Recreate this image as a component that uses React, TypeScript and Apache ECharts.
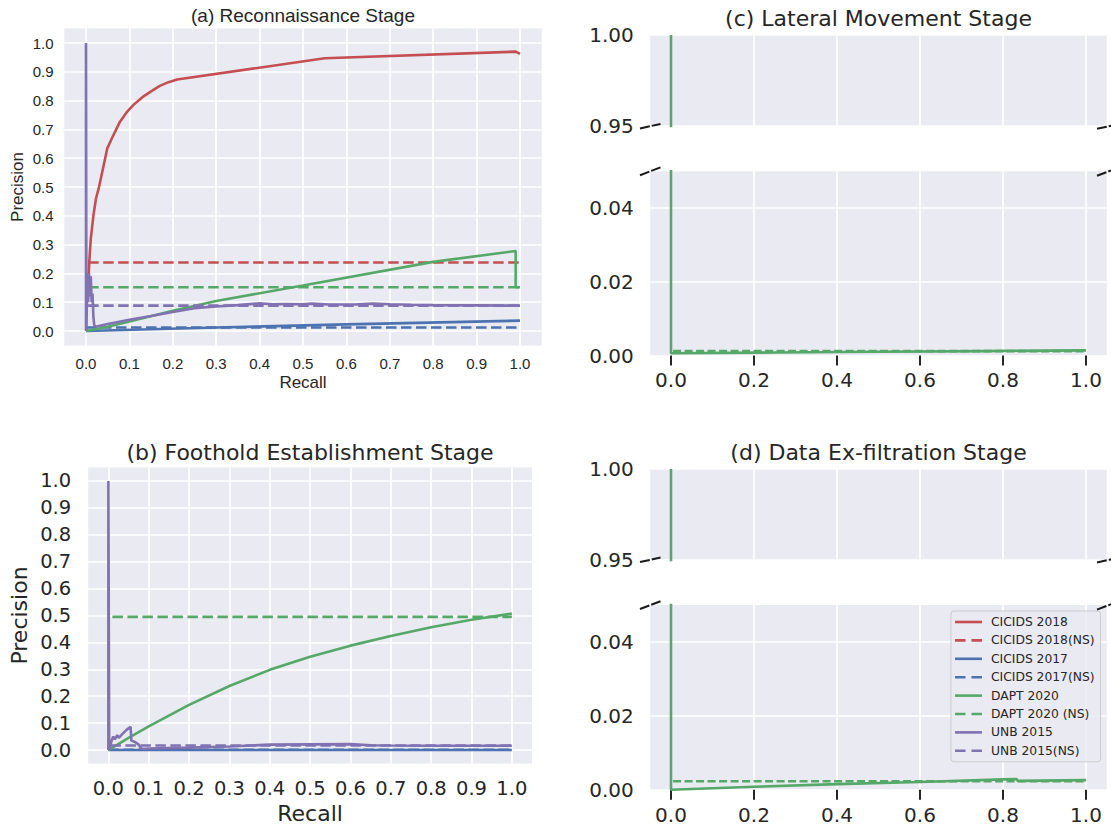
import React, { useEffect, useRef } from 'react';
import * as echarts from 'echarts';

// ---------- data ----------
const SERIES_NAMES = [
  'CICIDS 2018', 'CICIDS 2018(NS)', 'CICIDS 2017', 'CICIDS 2017(NS)',
  'DAPT 2020', 'DAPT 2020 (NS)', 'UNB 2015', 'UNB 2015(NS)',
];
const RED = '#c44e52';
const BLUE = '#4c72b0';
const GREEN = '#55a868';
const PURPLE = '#8172b2';

const TICKS_01 = [0.0, 0.1, 0.2, 0.3, 0.4, 0.5, 0.6, 0.7, 0.8, 0.9, 1.0];
const TICKS_02 = [0.0, 0.2, 0.4, 0.6, 0.8, 1.0];
const TICKS_UPPER = [0.95, 1.0];
const TICKS_LOWER = [0.0, 0.02, 0.04];

// (a) Reconnaissance
const A_CICIDS18 = [[0.006, 0.19], [0.008, 0.25], [0.011, 0.32], [0.017, 0.4], [0.023, 0.46], [0.03, 0.5], [0.04, 0.57], [0.049, 0.634], [0.06, 0.67], [0.078, 0.726], [0.095, 0.762], [0.11, 0.786], [0.13, 0.812], [0.15, 0.832], [0.17, 0.851], [0.19, 0.864], [0.21, 0.873], [0.55, 0.947], [0.99, 0.97], [1.0, 0.962]];
const A_CICIDS18_NS = [[0.005, 0.238], [1.0, 0.238]];
const A_CICIDS17 = [[0.0, 0.0], [0.3, 0.012], [0.6, 0.023], [1.0, 0.036]];
const A_CICIDS17_NS = [[0.0, 0.012], [1.0, 0.012]];
const A_DAPT = [[0.0, 0.0], [0.05, 0.015], [0.1, 0.033], [0.2, 0.07], [0.3, 0.104], [0.5, 0.158], [0.8, 0.24], [0.99, 0.278], [0.99, 0.152], [1.0, 0.152]];
const A_DAPT_NS = [[0.005, 0.152], [1.0, 0.152]];
const A_UNB = [[0.0, 0.0], [0.0, 1.0], [0.001, 0.0], [0.003, 0.19], [0.005, 0.1], [0.007, 0.2], [0.009, 0.12], [0.011, 0.19], [0.013, 0.1], [0.015, 0.13], [0.017, 0.05], [0.019, 0.02], [0.022, 0.015], [0.05, 0.024], [0.1, 0.039], [0.15, 0.052], [0.2, 0.066], [0.25, 0.079], [0.27, 0.082], [0.3, 0.085], [0.35, 0.09], [0.4, 0.096], [0.43, 0.093], [0.46, 0.094], [0.5, 0.093], [0.52, 0.095], [0.56, 0.092], [0.62, 0.092], [0.66, 0.095], [0.7, 0.093], [0.75, 0.091], [0.8, 0.09], [0.9, 0.089], [1.0, 0.088]];
const A_UNB_NS = [[0.005, 0.088], [1.0, 0.088]];

// (b) Foothold Establishment
const B_CICIDS17 = [[0.0, 0.0], [1.0, 0.0]];
const B_CICIDS17_NS = [[0.0, 0.001], [1.0, 0.001]];
const B_DAPT = [[0.0, 0.0], [0.05, 0.045], [0.1, 0.088], [0.2, 0.168], [0.3, 0.238], [0.4, 0.298], [0.5, 0.347], [0.6, 0.388], [0.7, 0.424], [0.8, 0.456], [0.9, 0.484], [1.0, 0.507]];
const B_DAPT_NS = [[0.01, 0.495], [1.0, 0.495]];
const B_UNB = [[0.0, 0.0], [0.0, 1.0], [0.002, 0.0], [0.008, 0.035], [0.012, 0.05], [0.016, 0.04], [0.022, 0.055], [0.026, 0.045], [0.035, 0.06], [0.045, 0.075], [0.055, 0.086], [0.057, 0.035], [0.066, 0.03], [0.075, 0.02], [0.08, 0.008], [0.085, 0.004], [0.1, 0.006], [0.2, 0.009], [0.3, 0.013], [0.4, 0.02], [0.5, 0.021], [0.6, 0.022], [0.65, 0.018], [0.7, 0.017], [0.8, 0.016], [1.0, 0.016]];
const B_UNB_NS = [[0.005, 0.017], [1.0, 0.017]];

// (c) Lateral Movement
const C_DAPT = [[0.0, 1.0], [0.0, 0.0006], [0.25, 0.0008], [0.5, 0.001], [0.75, 0.0012], [1.0, 0.0014]];
const C_DAPT_NS = [[0.005, 0.0012], [1.0, 0.0012]];

// (d) Data Ex-filtration
const D_DAPT = [[0.0, 1.0], [0.0, 0.0], [0.2, 0.0008], [0.4, 0.0015], [0.6, 0.0021], [0.8, 0.0028], [0.833, 0.0029], [0.835, 0.0024], [1.0, 0.0026]];
const D_DAPT_NS = [[0.005, 0.0023], [1.0, 0.0023]];

// ---------- styling ----------
const FONT_A = "'Liberation Sans', Arial, sans-serif";
const FONT = "'DejaVu Sans', sans-serif";
const TXT = '#262626';
const BG = '#eaeaf2';
const GRIDLINE = { show: true, lineStyle: { color: '#ffffff', width: 1.7 } };
const ICON_SOLID = 'path://M0,0M27,12M0,4.7H27V7.3H0Z';
const ICON_DASH = 'path://M0,0M27,12M0,4.7H10.5V7.3H0Z M16.5,4.7H27V7.3H16.5Z';

function line(name: string, data: number[][], color: string, dashed: boolean, axisIndex: number, dash: number[], width = 2.6) {
  return {
    type: 'line',
    name,
    data,
    xAxisIndex: axisIndex,
    yAxisIndex: axisIndex,
    symbol: 'none',
    showSymbol: false,
    clip: true,
    silent: true,
    itemStyle: { color },
    lineStyle: { color, width, type: dashed ? dash : 'solid' },
    emphasis: { disabled: true },
  };
}

function xAxis(gridIndex: number, ticks: number[], o: any) {
  return {
    type: 'value',
    gridIndex,
    min: -0.05,
    max: 1.05,
    axisLine: { show: false },
    axisTick: {
      show: !!o.tick,
      customValues: ticks,
      length: 10,
      lineStyle: { color: TXT, width: 2 },
    },
    axisLabel: {
      show: o.label !== false,
      customValues: ticks,
      formatter: (v: number) => v.toFixed(1),
      fontFamily: o.font,
      fontSize: o.fontSize,
      color: TXT,
      margin: o.margin,
    },
    splitLine: GRIDLINE,
    name: o.name || '',
    nameLocation: 'middle',
    nameGap: o.nameGap || 0,
    nameTextStyle: { fontFamily: o.font, fontSize: o.nameSize, color: TXT },
  };
}

function yAxis(gridIndex: number, min: number, max: number, ticks: number[], o: any) {
  return {
    type: 'value',
    gridIndex,
    min,
    max,
    axisLine: { show: false },
    axisTick: { show: false, customValues: ticks },
    axisLabel: {
      customValues: ticks,
      formatter: (v: number) => v.toFixed(o.digits),
      fontFamily: o.font,
      fontSize: o.fontSize,
      color: TXT,
      margin: o.margin,
    },
    splitLine: GRIDLINE,
    name: o.name || '',
    nameLocation: 'middle',
    nameGap: o.nameGap || 0,
    nameTextStyle: { fontFamily: o.font, fontSize: o.nameSize, color: TXT },
  };
}

function breakMark(x1: number, y1: number, x2: number, y2: number) {
  return {
    type: 'line',
    silent: true,
    shape: { x1, y1, x2, y2 },
    style: { stroke: '#1a1a1a', lineWidth: 2, lineDash: [10, 2] },
    z: 100,
  };
}

export default function App() {
  const ref = useRef<HTMLDivElement>(null);

  useEffect(() => {
    if (!ref.current) return;
    const chart = echarts.init(ref.current, undefined, { renderer: 'svg' });
    const W = 456.5;
    const grids = [
      { left: 64.3, top: 28.6, width: 477.4, height: 316.8 },
      { left: 88.2, top: 467.5, width: 443.8, height: 296 },
      { left: 650.25, top: 35, width: W, height: 91 },
      { left: 650.25, top: 171.2, width: W, height: 184.3 },
      { left: 650.25, top: 469, width: W, height: 91 },
      { left: 650.25, top: 605, width: W, height: 184.7 },
    ].map((g) => ({ ...g, show: true, backgroundColor: BG, borderWidth: 0, containLabel: false }));

    const dA = [10.5, 4.5];
    const dC = [8, 3.5];

    const series: any[] = [
      line(SERIES_NAMES[0], A_CICIDS18, RED, false, 0, dA),
      line(SERIES_NAMES[1], A_CICIDS18_NS, RED, true, 0, dA),
      line(SERIES_NAMES[2], A_CICIDS17, BLUE, false, 0, dA),
      line(SERIES_NAMES[3], A_CICIDS17_NS, BLUE, true, 0, dA),
      line(SERIES_NAMES[4], A_DAPT, GREEN, false, 0, dA),
      line(SERIES_NAMES[5], A_DAPT_NS, GREEN, true, 0, dA),
      line(SERIES_NAMES[6], A_UNB, PURPLE, false, 0, dA),
      line(SERIES_NAMES[7], A_UNB_NS, PURPLE, true, 0, dA),

      line(SERIES_NAMES[2], B_CICIDS17, BLUE, false, 1, dA),
      line(SERIES_NAMES[3], B_CICIDS17_NS, BLUE, true, 1, dA),
      line(SERIES_NAMES[4], B_DAPT, GREEN, false, 1, dA),
      line(SERIES_NAMES[5], B_DAPT_NS, GREEN, true, 1, dA),
      line(SERIES_NAMES[6], B_UNB, PURPLE, false, 1, dA),
      line(SERIES_NAMES[7], B_UNB_NS, PURPLE, true, 1, dA),

      line(SERIES_NAMES[4], C_DAPT, GREEN, false, 2, dC),
      line(SERIES_NAMES[4], C_DAPT, GREEN, false, 3, dC),
      line(SERIES_NAMES[5], C_DAPT_NS, GREEN, true, 3, dC),

      line(SERIES_NAMES[4], D_DAPT, GREEN, false, 4, dC),
      line(SERIES_NAMES[4], D_DAPT, GREEN, false, 5, dC),
      line(SERIES_NAMES[5], D_DAPT_NS, GREEN, true, 5, dC),
    ];

    const titleStyle = (font: string, size: number) => ({ fontFamily: font, fontSize: size, color: TXT, fontWeight: 'normal' });

    const option: any = {
      animation: false,
      backgroundColor: '#ffffff',
      title: [
        { text: '(a) Reconnaissance Stage', left: 303, top: 5.5, textAlign: 'center', padding: 0, textStyle: titleStyle(FONT_A, 19) },
        { text: '(b) Foothold Establishment Stage', left: 310, top: 441, textAlign: 'center', padding: 0, textStyle: titleStyle(FONT, 22) },
        { text: '(c) Lateral Movement Stage', left: 878.5, top: 7.5, textAlign: 'center', padding: 0, textStyle: titleStyle(FONT, 22) },
        { text: '(d) Data Ex-filtration Stage', left: 878.5, top: 441, textAlign: 'center', padding: 0, textStyle: titleStyle(FONT, 22) },
      ],
      grid: grids,
      xAxis: [
        xAxis(0, TICKS_01, { font: FONT_A, fontSize: 15, margin: 10.6, name: 'Recall', nameGap: 29, nameSize: 17 }),
        xAxis(1, TICKS_01, { font: FONT, fontSize: 19.5, margin: 15, name: 'Recall', nameGap: 38.5, nameSize: 22 }),
        xAxis(2, TICKS_02, { font: FONT, fontSize: 20, label: false }),
        xAxis(3, TICKS_02, { font: FONT, fontSize: 20, margin: 14.5, tick: true }),
        xAxis(4, TICKS_02, { font: FONT, fontSize: 20, label: false }),
        xAxis(5, TICKS_02, { font: FONT, fontSize: 20, margin: 15.3, tick: true }),
      ],
      yAxis: [
        yAxis(0, -0.05, 1.05, TICKS_01, { font: FONT_A, fontSize: 15, margin: 10.7, digits: 1, name: 'Precision', nameGap: 38, nameSize: 17 }),
        yAxis(1, -0.05, 1.05, TICKS_01, { font: FONT, fontSize: 19.5, margin: 17, digits: 1, name: 'Precision', nameGap: 58, nameSize: 22 }),
        yAxis(2, 0.95, 1.0, TICKS_UPPER, { font: FONT, fontSize: 20, margin: 16.5, digits: 2 }),
        yAxis(3, 0.0, 0.05, TICKS_LOWER, { font: FONT, fontSize: 20, margin: 16.5, digits: 2 }),
        yAxis(4, 0.95, 1.0, TICKS_UPPER, { font: FONT, fontSize: 20, margin: 16.5, digits: 2 }),
        yAxis(5, 0.0, 0.05, TICKS_LOWER, { font: FONT, fontSize: 20, margin: 16.5, digits: 2 }),
      ],
      legend: {
        data: SERIES_NAMES.map((name, i) => ({ name, icon: i % 2 === 1 ? ICON_DASH : ICON_SOLID })),
        orient: 'vertical',
        left: 951,
        top: 611,
        padding: [5, 6, 5, 4],
        itemWidth: 27,
        itemHeight: 12,
        itemGap: 6.4,
        itemStyle: { borderWidth: 0 },
        backgroundColor: 'rgba(234,234,242,0.85)',
        borderColor: '#cccccc',
        borderWidth: 1,
        borderRadius: 3,
        selectedMode: false,
        textStyle: { fontFamily: FONT, fontSize: 12.3, color: TXT, padding: [0, 0, 0, 4] },
      },
      graphic: [
        breakMark(640, 128.4, 660.5, 124),
        breakMark(640, 175.2, 660.5, 167.4),
        breakMark(1097, 128.8, 1117.5, 124.4),
        breakMark(1097, 175.8, 1117.5, 168),
        breakMark(640, 562, 660.5, 557.6),
        breakMark(640, 609, 660.5, 601.2),
        breakMark(1097, 562.4, 1117.5, 558),
        breakMark(1097, 609.6, 1117.5, 601.8),
      ],
      series,
    };
    chart.setOption(option);
    return () => chart.dispose();
  }, []);

  return (
    <div
      ref={ref}
      style={{ position: 'fixed', left: 0, top: 0, width: 1111, height: 826, background: '#ffffff' }}
    />
  );
}
